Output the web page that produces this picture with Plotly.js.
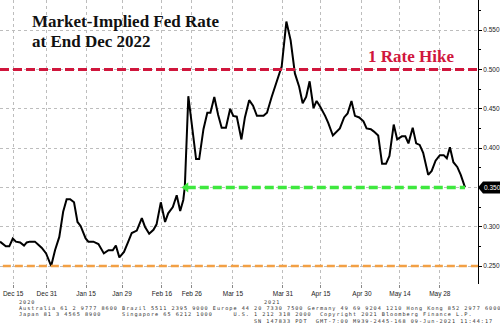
<!DOCTYPE html>
<html>
<head>
<meta charset="utf-8">
<script src="https://cdn.plot.ly/plotly-3.0.1.min.js"></script>
<style>html,body{margin:0;padding:0;background:#fff;}#chart{width:500px;height:335px;}</style>
</head>
<body>
<div id="chart"></div>
<script>
// Trading-day position (since Dec 14, 2020) and market-implied Fed rate at end Dec 2022 (%)
const tradingDay = [
  0.0, 0.9, 1.5, 2.4, 3.3, 4.1, 5.2, 6.2, 6.9, 7.7,
  9.0, 9.9, 10.8, 11.9, 13.2, 14.2, 15.3, 16.3, 17.2, 18.1,
  19.1, 20.0, 20.8, 22.1, 22.8, 24.1, 25.4, 26.8, 28.0, 29.1,
  29.9, 30.8, 32.0, 33.1, 34.0, 35.3, 36.6, 37.4, 38.5, 39.6,
  40.4, 41.5, 42.6, 43.4, 44.6, 45.6, 46.5, 47.3, 47.7, 48.6,
  49.7, 50.6, 51.4, 52.5, 53.5, 54.3, 55.3, 56.3, 57.2, 58.3,
  59.4, 60.2, 61.1, 62.3, 63.2, 64.3, 65.3, 66.3, 68.0, 68.9,
  70.1, 71.4, 72.7, 73.9, 75.0, 76.1, 77.2, 78.1, 79.0, 79.9,
  80.9, 81.7, 82.6, 83.9, 84.7, 85.9, 86.9, 87.7, 88.8, 89.7,
  90.7, 91.6, 92.7, 93.8, 94.6, 95.7, 96.5, 97.6, 98.6, 99.6,
  100.5, 101.6, 102.5, 103.7, 104.6, 105.4, 106.5, 107.4, 108.3, 109.2,
  110.5, 111.4, 112.4, 113.5, 114.5, 115.3, 116.1, 117.0, 118.0, 118.9, 120.0
];
const fedRate = [
  0.281, 0.278, 0.275, 0.275, 0.285, 0.281, 0.280, 0.276, 0.280, 0.281,
  0.281, 0.277, 0.273, 0.266, 0.250, 0.270, 0.287, 0.319, 0.335, 0.335,
  0.331, 0.306, 0.301, 0.285, 0.281, 0.281, 0.278, 0.266, 0.270, 0.270,
  0.276, 0.261, 0.268, 0.281, 0.292, 0.295, 0.311, 0.300, 0.291, 0.296,
  0.303, 0.331, 0.306, 0.317, 0.325, 0.340, 0.320, 0.334, 0.351, 0.466,
  0.423, 0.386, 0.386, 0.424, 0.445, 0.445, 0.465, 0.442, 0.426, 0.426,
  0.450, 0.441, 0.440, 0.411, 0.439, 0.461, 0.454, 0.441, 0.441, 0.445,
  0.465, 0.484, 0.504, 0.561, 0.537, 0.495, 0.478, 0.457, 0.465, 0.485,
  0.451, 0.460, 0.453, 0.441, 0.432, 0.416, 0.421, 0.425, 0.439, 0.444,
  0.460, 0.441, 0.439, 0.434, 0.425, 0.424, 0.421, 0.416, 0.380, 0.380,
  0.390, 0.430, 0.411, 0.415, 0.415, 0.406, 0.426, 0.406, 0.404, 0.394,
  0.366, 0.371, 0.384, 0.391, 0.391, 0.387, 0.401, 0.382, 0.376, 0.366, 0.350
];
const tickDay  = [3.4, 12.1, 22.2, 31.5, 41.8, 49.5, 60.1, 73.0, 82.8, 93.4, 103.2, 113.5];
const tickText = ['Dec 15','Dec 31','Jan 15','Jan 29','Feb 16','Feb 26','Mar 15','Mar 31','Apr 15','Apr 30','May 14','May 28'];
const yTicks = [0.25, 0.30, 0.35, 0.40, 0.45, 0.50, 0.55];
const yTickText = ['0.250','0.300','0.350','0.400','0.450','0.500','0.550'];
const rateHikeLevel = 0.50;
const currentLevel = 0.35;
const floorLevel = 0.25;
const currentFromDay = 48.2;
const lastDay = tradingDay[tradingDay.length - 1];
const lastValue = fedRate[fedRate.length - 1];

const titleLines = ['Market-Implied Fed Rate', 'at End Dec 2022'];
const hikeLabel = '1 Rate Hike';
const yearLabels = ['2020', '2021'];
const footer1 = 'Australia 61 2 9777 8600 Brazil 5511 2395 9000 Europe 44 20 7330 7500 Germany 49 69 9204 1210 Hong Kong 852 2977 6000';
const footer2 = 'Japan 81 3 4565 8900     Singapore 65 6212 1000     U.S. 1 212 318 2000  Copyright 2021 Bloomberg Finance L.P.';
const footer3 = 'SN 147833 PDT  GMT-7:00 M939-2445-168 09-Jun-2021 11:44:17';

const RED = '#d0163c', GREEN = '#3ee83e', ORANGE = '#f2a045';
const W = 478, H = 284; // plot area in px, used only for annotation placement
const px = v => v / W;
const py = v => (H - v) / H;
const mono = s => '<span style="letter-spacing:1px">' + s.replace(/ /g, '&nbsp;') + '</span>';

const traces = [
  {
    x: tradingDay, y: fedRate, type: 'scatter', mode: 'lines',
    line: {color: '#000', width: 2}, hoverinfo: 'skip', showlegend: false
  },
  {
    x: [currentFromDay, lastDay], y: [currentLevel, currentLevel], type: 'scatter', mode: 'lines',
    line: {color: GREEN, width: 3.5, dash: '9px,4px'}, showlegend: false, hoverinfo: 'skip'
  },
  {
    x: [currentFromDay - 0.2], y: [currentLevel], type: 'scatter', mode: 'markers',
    marker: {symbol: 'triangle-left', size: 9, color: GREEN}, showlegend: false, hoverinfo: 'skip'
  }
];

const footFont = {family: 'DejaVu Sans Mono, monospace', size: 5.2, color: '#333'};
const annotations = [
  {xref: 'paper', yref: 'paper', x: px(30), y: py(21), xanchor: 'left', yanchor: 'middle', showarrow: false,
   text: '<b>' + titleLines[0] + '</b>', font: {family: 'Liberation Serif, serif', size: 17, color: '#111'}},
  {xref: 'paper', yref: 'paper', x: px(30), y: py(41), xanchor: 'left', yanchor: 'middle', showarrow: false,
   text: '<b>' + titleLines[1] + '</b>', font: {family: 'Liberation Serif, serif', size: 17, color: '#111'}},
  {xref: 'paper', yref: 'paper', x: px(411), y: py(57), xanchor: 'center', yanchor: 'middle', showarrow: false,
   text: '<b>' + hikeLabel + '</b>', font: {family: 'Liberation Serif, serif', size: 17, color: RED}},
  {xref: 'paper', yref: 'y', x: 1, y: lastValue, xanchor: 'left', yanchor: 'middle', xshift: 4, showarrow: false,
   text: lastValue.toFixed(3), font: {family: 'Liberation Sans, Arial, sans-serif', size: 6.5, color: '#fff'}},
  {xref: 'paper', yref: 'paper', x: px(17), y: py(302), xanchor: 'left', yanchor: 'middle', showarrow: false, text: mono(yearLabels[0]), font: footFont},
  {xref: 'paper', yref: 'paper', x: px(262), y: py(302), xanchor: 'left', yanchor: 'middle', showarrow: false, text: mono(yearLabels[1]), font: footFont},
  {xref: 'paper', yref: 'paper', x: px(17), y: py(308.2), xanchor: 'left', yanchor: 'middle', showarrow: false, text: mono(footer1), font: footFont},
  {xref: 'paper', yref: 'paper', x: px(17), y: py(314.4), xanchor: 'left', yanchor: 'middle', showarrow: false, text: mono(footer2), font: footFont},
  {xref: 'paper', yref: 'paper', x: px(495), y: py(320.6), xanchor: 'right', yanchor: 'middle', showarrow: false, text: mono(footer3), font: footFont}
];

const shapes = [
  {type: 'line', xref: 'paper', yref: 'y', x0: 0, x1: 1, y0: rateHikeLevel, y1: rateHikeLevel,
   line: {color: RED, width: 3, dash: '9px,4px'}},
  {type: 'line', xref: 'paper', yref: 'y', x0: 0.006, x1: 1, y0: floorLevel, y1: floorLevel,
   line: {color: ORANGE, width: 2.5, dash: '8px,4px'}},
  {type: 'path', xref: 'paper', yref: 'y', xsizemode: 'pixel', ysizemode: 'pixel', xanchor: 1, yanchor: lastValue,
   path: 'M 0 0 L 5 6 L 22 6 L 22 -6 L 5 -6 Z', fillcolor: '#000', line: {width: 0}, layer: 'above'}
];

const layout = {
  width: 500, height: 335,
  margin: {l: 0, r: 22, t: 0, b: 51, pad: 0},
  paper_bgcolor: '#fff', plot_bgcolor: '#fff',
  showlegend: false,
  xaxis: {
    range: [0, 123.35], tickmode: 'array', tickvals: tickDay, ticktext: tickText,
    showgrid: true, gridcolor: '#bdbdbd', griddash: 'dot', gridwidth: 1,
    zeroline: false, showline: false,
    ticks: 'outside', ticklen: 3, tickcolor: '#888',
    tickfont: {family: 'Liberation Sans, Arial, sans-serif', size: 6.5, color: '#222'}
  },
  yaxis: {
    side: 'right', range: [0.2271, 0.5884], tickmode: 'array', tickvals: yTicks, ticktext: yTickText,
    showgrid: true, gridcolor: '#bdbdbd', griddash: 'dot', gridwidth: 1,
    zeroline: false, showline: true, linecolor: '#000', linewidth: 1,
    ticks: 'outside', ticklen: 3, tickcolor: '#000',
    minor: {tickmode: 'linear', tick0: 0.25, dtick: 0.025, ticks: 'outside', ticklen: 2, tickcolor: '#000', showgrid: false},
    tickfont: {family: 'Liberation Sans, Arial, sans-serif', size: 6.5, color: '#222'}
  },
  shapes: shapes,
  annotations: annotations
};

Plotly.newPlot('chart', traces, layout, {staticPlot: true, displayModeBar: false});
</script>
</body>
</html>
